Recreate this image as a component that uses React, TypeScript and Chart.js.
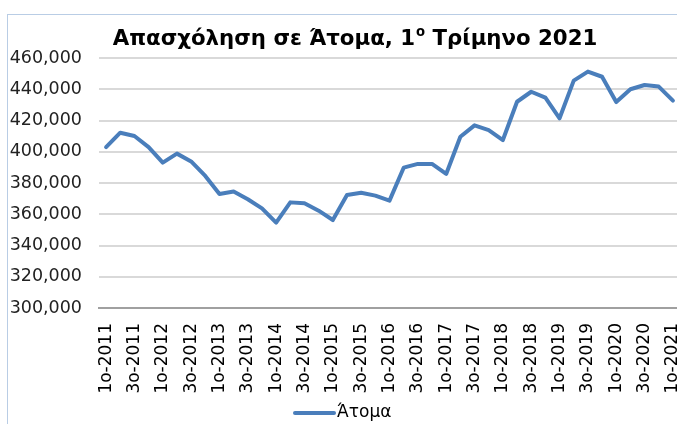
import React, { useEffect, useRef } from "react";
import { Chart, registerables } from "chart.js";

Chart.register(...registerables);

const quarters = [
  "1ο-2011", "2ο-2011", "3ο-2011", "4ο-2011",
  "1ο-2012", "2ο-2012", "3ο-2012", "4ο-2012",
  "1ο-2013", "2ο-2013", "3ο-2013", "4ο-2013",
  "1ο-2014", "2ο-2014", "3ο-2014", "4ο-2014",
  "1ο-2015", "2ο-2015", "3ο-2015", "4ο-2015",
  "1ο-2016", "2ο-2016", "3ο-2016", "4ο-2016",
  "1ο-2017", "2ο-2017", "3ο-2017", "4ο-2017",
  "1ο-2018", "2ο-2018", "3ο-2018", "4ο-2018",
  "1ο-2019", "2ο-2019", "3ο-2019", "4ο-2019",
  "1ο-2020", "2ο-2020", "3ο-2020", "4ο-2020",
  "1ο-2021",
];

const employed = [
  403000, 412200, 410100, 403000,
  393000, 398800, 393800, 384500,
  373000, 374500, 369600, 363800,
  354600, 367600, 367000, 362300,
  356300, 372300, 373800, 371900,
  368700, 389800, 392200, 392200,
  385800, 409600, 416900, 413900,
  407500, 432000, 438400, 434600,
  421400, 445500, 451300, 448000,
  431800, 440000, 442700, 441700,
  432700,
];

const yMin = 300000;
const yMax = 460000;
const yStep = 20000;

const titleMain = "Απασχόληση σε Άτομα, 1";
const titleSup = "ο";
const titleRest = " Τρίμηνο 2021";
const seriesLabel = "Άτομα";
const lineColor = "#4a7ebb";

const FONT = "DejaVu Sans";

export default function App() {
  const ref = useRef<HTMLCanvasElement>(null);

  useEffect(() => {
    document.body.style.overflow = "hidden";
    document.documentElement.style.overflow = "hidden";
    const canvas = ref.current;
    if (!canvas) return;

    const decorPlugin = {
      id: "decor",
      afterDraw(chart: any) {
        const ctx = chart.ctx as CanvasRenderingContext2D;
        ctx.save();
        // title with superscript, sized to the reference's width
        const measure = (size: number) => {
          ctx.font = `bold ${size}px ${FONT}`;
          const a = ctx.measureText(titleMain).width;
          const c = ctx.measureText(titleRest).width;
          ctx.font = `bold ${size * 0.62}px ${FONT}`;
          const b = ctx.measureText(titleSup).width;
          return { a, b, c, t: a + b + c + 1 };
        };
        const m0 = measure(20);
        const size = Math.min(22, 20 * (485 / m0.t));
        const m = measure(size);
        let x = 347 - m.t / 2;
        const y = 30;
        ctx.fillStyle = "#000";
        ctx.textAlign = "left";
        ctx.textBaseline = "alphabetic";
        ctx.font = `bold ${size}px ${FONT}`;
        ctx.fillText(titleMain, x, y);
        x += m.a + 1;
        ctx.font = `bold ${size * 0.62}px ${FONT}`;
        ctx.fillText(titleSup, x, y - size * 0.4);
        x += m.b;
        ctx.font = `bold ${size}px ${FONT}`;
        ctx.fillText(titleRest, x, y);

        // legend
        const ly = 398;
        ctx.strokeStyle = lineColor;
        ctx.lineWidth = 4;
        ctx.lineCap = "round";
        ctx.beginPath();
        ctx.moveTo(287, ly);
        ctx.lineTo(326, ly);
        ctx.stroke();
        ctx.font = `17px ${FONT}`;
        ctx.textBaseline = "middle";
        ctx.fillStyle = "#000";
        ctx.fillText(seriesLabel, 329, ly);
        ctx.restore();
      },
    };

    const chart = new Chart(canvas, {
      type: "line",
      data: {
        labels: quarters,
        datasets: [
          {
            label: seriesLabel,
            data: employed,
            borderColor: lineColor,
            backgroundColor: lineColor,
            borderWidth: 4,
            pointRadius: 0,
            tension: 0,
            borderJoinStyle: "round",
            borderCapStyle: "round",
          },
        ],
      },
      options: {
        animation: false,
        responsive: false,
        layout: { padding: { top: 43, left: 0, right: 8, bottom: 0 } },
        plugins: {
          title: { display: false },
          tooltip: { enabled: false },
          legend: { display: false },
        },
        scales: {
          x: {
            offset: true,
            grid: { display: false, drawTicks: false },
            border: { display: true, color: "#a0a0a0", width: 2 },
            afterFit: (s: any) => {
              s.height = 116;
              s.paddingLeft = 0;
              s.paddingRight = 0;
            },
            ticks: {
              autoSkip: false,
              maxRotation: 90,
              minRotation: 90,
              padding: 15,
              color: "#000",
              font: { family: FONT, size: 17 },
              callback: (_v: any, i: number) => (i % 2 === 0 ? quarters[i] : ""),
            },
          },
          y: {
            min: yMin,
            max: yMax,
            afterFit: (s: any) => {
              s.width = 91;
            },
            grid: { color: "#d9d9d9", lineWidth: 2, drawTicks: false },
            border: { display: false },
            ticks: {
              stepSize: yStep,
              padding: 17,
              color: "#222",
              font: { family: FONT, size: 17.5 },
              callback: (v: any) => Number(v).toLocaleString("en-US"),
            },
          },
        },
      },
      plugins: [decorPlugin],
    });

    return () => chart.destroy();
  }, []);

  return (
    <div
      style={{
        position: "fixed",
        left: 7,
        top: 14,
        width: 720,
        height: 440,
        border: "1px solid #b9cde5",
        boxSizing: "border-box",
        background: "#fff",
        overflow: "hidden",
      }}
    >
      <canvas
        ref={ref}
        width={680}
        height={409}
        style={{ position: "absolute", left: 0, top: 0, width: 680, height: 409 }}
      />
    </div>
  );
}
